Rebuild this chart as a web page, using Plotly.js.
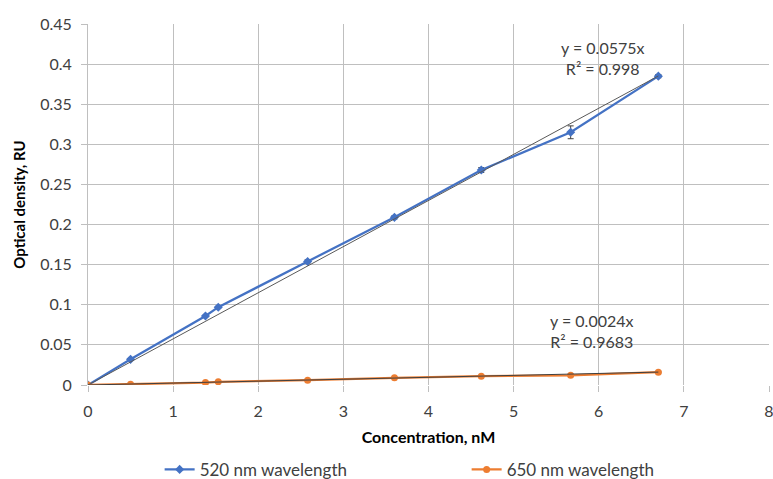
<!DOCTYPE html>
<html><head><meta charset="utf-8">
<script src="https://cdn.plot.ly/plotly-3.0.1.min.js"></script>
<style>body{margin:0;background:#fff}#c{width:773px;height:479px}</style>
</head><body><div id="c"></div>
<script>
const conc = [0, 0.5, 1.38, 1.53, 2.58, 3.6, 4.62, 5.67, 6.7];
const od520 = [0, 0.032, 0.086, 0.097, 0.154, 0.209, 0.268, 0.315, 0.385];
const err520 = [0, 0.001, 0.001, 0.001, 0.002, 0.002, 0.003, 0.008, 0.002];
const od650 = [0, 0.001, 0.003, 0.004, 0.006, 0.009, 0.011, 0.012, 0.016];
const err650 = [0, 0.0005, 0.0005, 0.0005, 0.0005, 0.0005, 0.0005, 0.0005, 0.001];
const slope520 = 0.0575, r2_520 = 0.998;
const slope650 = 0.0024, r2_650 = 0.9683;
const trendX = [0, 6.7];

const data = [
  {x: conc, y: od520, name:'520 nm wavelength', mode:'lines+markers',
   line:{color:'#4472C4', width:2.25}, marker:{symbol:'diamond', size:7, color:'#4472C4'},
   error_y:{type:'data', array:err520, visible:true, color:'#404040', thickness:1, width:3}},
  {x: conc, y: od650, name:'650 nm wavelength', mode:'lines+markers',
   line:{color:'#ED7D31', width:2.25}, marker:{symbol:'circle', size:7, color:'#ED7D31'},
   error_y:{type:'data', array:err650, visible:true, color:'#404040', thickness:1, width:3}},
  {x: trendX, y: trendX.map(v => v*slope520), mode:'lines', line:{color:'#595959', width:1}, showlegend:false, hoverinfo:'skip'},
  {x: trendX, y: trendX.map(v => v*slope650), mode:'lines', line:{color:'#404040', width:1}, showlegend:false, hoverinfo:'skip'}
];

const layout = {
  width:773, height:479,
  margin:{l:88, r:4, t:24, b:94, autoexpand:false},
  paper_bgcolor:'#fff', plot_bgcolor:'#fff',
  font:{family:'Lato, "Open Sans", sans-serif', size:16, color:'#404040'},
  xaxis:{range:[0,8], dtick:1, showgrid:true, gridcolor:'#BFBFBF', gridwidth:1, zeroline:false,
    showline:false, ticks:'outside', ticklen:6, tickcolor:'#BFBFBF', tickfont:{size:16, color:'#404040'},
    ticklabeloverflow:'allow', ticklabelstandoff:6,
    title:{text:'<b>Concentration, nM</b>', font:{size:16, color:'#000'}, standoff:12}},
  yaxis:{range:[0,0.45], dtick:0.05, showgrid:true, gridcolor:'#BFBFBF', gridwidth:1, zeroline:false,
    showline:true, linecolor:'#BFBFBF', ticks:'outside', ticklen:6, tickcolor:'#BFBFBF', tickfont:{size:16, color:'#404040'},
    ticklabelstandoff:6, tickformat:'~g',
    title:{text:'<b>Optical density, RU</b>', font:{size:15, color:'#000'}, standoff:10}},
  showlegend:true,
  legend:{orientation:'h', x:0.556, xanchor:'center', y:-0.235, yanchor:'middle', font:{size:17, color:'#404040'}, entrywidth:262, entrywidthmode:'pixels'},
  annotations:[
    {x:6.05, y:0.4077, xref:'x', yref:'y', text:'y = '+slope520+'x<br>R² = '+r2_520, showarrow:false, font:{size:16, color:'#404040'}, align:'center'},
    {x:5.92, y:0.0673, xref:'x', yref:'y', text:'y = '+slope650+'x<br>R² = '+r2_650, showarrow:false, font:{size:16, color:'#404040'}, align:'center'}
  ]
};
Plotly.newPlot('c', data, layout, {displayModeBar:false});
</script></body></html>
